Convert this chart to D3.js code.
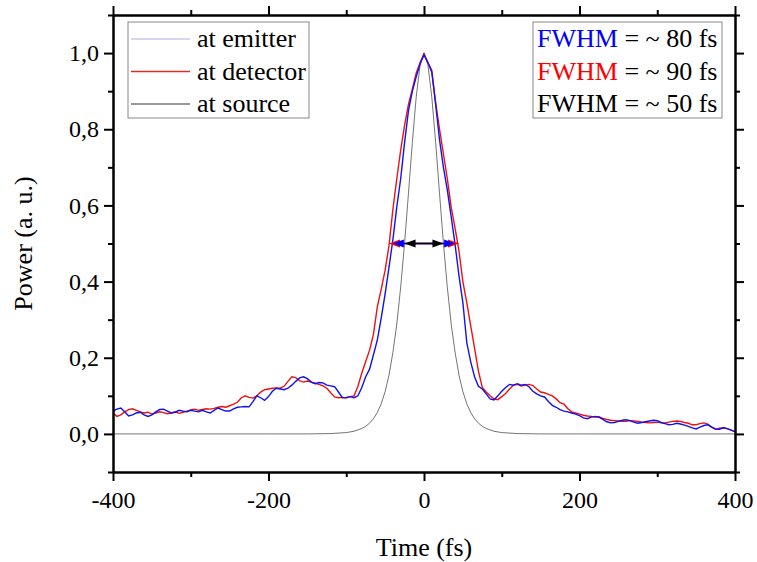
<!DOCTYPE html>
<html>
<head>
<meta charset="utf-8">
<script src="https://cdn.jsdelivr.net/npm/d3@7"></script>
<style>
  body { margin: 0; background: #fff; }
  svg, svg text { font-family: "Liberation Serif", "Times New Roman", serif; }
</style>
</head>
<body>
<div class="viz"></div>
<script>
// time grid for the measured traces (fs)
const timeGrid = d3.range(-400, 401, 5);

// "at emitter" (blue) trace, one value per 5 fs
const emitterPower = [
  0.060, 0.065, 0.068, 0.058, 0.047, 0.050, 0.055, 0.057, 0.050, 0.046,
  0.050, 0.058, 0.064, 0.065, 0.060, 0.055, 0.057, 0.062, 0.060, 0.058,
  0.062, 0.060, 0.058, 0.062, 0.058, 0.055, 0.062, 0.068, 0.064, 0.060,
  0.060, 0.066, 0.070, 0.071, 0.072, 0.071, 0.085, 0.100, 0.095, 0.088,
  0.098, 0.112, 0.120, 0.118, 0.116, 0.120, 0.128, 0.138, 0.147, 0.150,
  0.145, 0.136, 0.132, 0.135, 0.134, 0.128, 0.126, 0.124, 0.110, 0.095,
  0.096, 0.098, 0.095, 0.100, 0.122, 0.150, 0.170, 0.208, 0.247, 0.305,
  0.368, 0.438, 0.510, 0.596, 0.670, 0.765, 0.848, 0.900, 0.938, 0.972,
  0.995, 0.975, 0.950, 0.865, 0.772, 0.700, 0.640, 0.570, 0.497, 0.415,
  0.345, 0.240, 0.190, 0.150, 0.125, 0.118, 0.105, 0.092, 0.089, 0.100,
  0.112, 0.122, 0.130, 0.128, 0.132, 0.128, 0.130, 0.124, 0.112, 0.105,
  0.100, 0.097, 0.085, 0.075, 0.070, 0.064, 0.060, 0.058, 0.055, 0.052,
  0.048, 0.042, 0.040, 0.044, 0.046, 0.044, 0.038, 0.032, 0.029, 0.030,
  0.033, 0.036, 0.037, 0.035, 0.031, 0.028, 0.030, 0.032, 0.034, 0.036,
  0.035, 0.030, 0.027, 0.024, 0.025, 0.028, 0.026, 0.023, 0.020, 0.016,
  0.013, 0.018, 0.022, 0.024, 0.018, 0.013, 0.012, 0.016, 0.014, 0.010,
  0.006
];

// "at detector" (red) trace
const detectorPower = [
  0.055, 0.046, 0.050, 0.058, 0.064, 0.066, 0.062, 0.058, 0.055, 0.057,
  0.052, 0.055, 0.058, 0.056, 0.053, 0.055, 0.058, 0.054, 0.057, 0.060,
  0.063, 0.065, 0.062, 0.064, 0.066, 0.065, 0.067, 0.070, 0.072, 0.070,
  0.074, 0.078, 0.083, 0.095, 0.100, 0.096, 0.094, 0.100, 0.110, 0.116,
  0.118, 0.120, 0.121, 0.120, 0.125, 0.138, 0.150, 0.148, 0.140, 0.136,
  0.139, 0.136, 0.133, 0.130, 0.126, 0.120, 0.108, 0.097, 0.095, 0.096,
  0.094, 0.098, 0.100, 0.125, 0.160, 0.190, 0.220, 0.262, 0.334, 0.380,
  0.430, 0.495, 0.590, 0.670, 0.745, 0.810, 0.865, 0.905, 0.948, 0.975,
  0.998, 0.975, 0.955, 0.870, 0.800, 0.735, 0.670, 0.595, 0.540, 0.480,
  0.400, 0.345, 0.285, 0.225, 0.165, 0.122, 0.110, 0.100, 0.092, 0.090,
  0.098, 0.106, 0.118, 0.128, 0.130, 0.126, 0.128, 0.130, 0.127, 0.118,
  0.110, 0.108, 0.104, 0.100, 0.092, 0.082, 0.078, 0.066, 0.058, 0.055,
  0.052, 0.049, 0.047, 0.046, 0.044, 0.045, 0.041, 0.038, 0.036, 0.035,
  0.034, 0.033, 0.033, 0.035, 0.034, 0.033, 0.031, 0.030, 0.029, 0.030,
  0.031, 0.029, 0.029, 0.031, 0.033, 0.034, 0.033, 0.030, 0.028, 0.024,
  0.024, 0.027, 0.029, 0.026, 0.018, 0.012, 0.015, 0.016, 0.014, 0.010,
  0.006
];

// "at source" (black) pulse
const sourceTime = [-400, -200, -150, -120, -100, -90, -80, -75, -70, -65, -60, -55, -50, -45, -40, -35, -30, -25, -20, -15, -10, -5,
  0, 5, 10, 15, 20, 25, 30, 35, 40, 45, 50, 55, 60, 65, 70, 75, 80, 90, 100, 120, 150, 200, 400];
const sourcePower = [0, 0, 0, 0.0009, 0.0035, 0.007, 0.0141, 0.020, 0.0283, 0.040, 0.0565, 0.0794, 0.1111, 0.1544, 0.2141, 0.288, 0.3853, 0.5, 0.6307, 0.7648, 0.8852, 0.9695,
  1, 0.9695, 0.8852, 0.7648, 0.6307, 0.5, 0.3853, 0.288, 0.2141, 0.1544, 0.1111, 0.0794, 0.0565, 0.040, 0.0283, 0.020, 0.0141, 0.007, 0.0035, 0.0009, 0, 0, 0];

// FWHM markers (fs), drawn at half maximum
const fwhmWidths = [90, 80, 50];
const fwhmColors = ["#ff0000", "#0000ff", "#000000"];

// legends
const legendNames = ["at emitter", "at detector", "at source"];
const legendColors = ["#c8c8ee", "#e02a2a", "#777777"];
const fwhmTextColors = ["#0000ff", "#ff0000", "#000000"];
const fwhmTexts = ["~ 80 fs", "~ 90 fs", "~ 50 fs"];

const xTicks = [-400, -200, 0, 200, 400];
const xMinor = [-300, -100, 100, 300];
const yTicks = [0, 0.2, 0.4, 0.6, 0.8, 1.0];
const yMinor = [-0.1, 0.1, 0.3, 0.5, 0.7, 0.9, 1.1];

const SERIF = '"Liberation Serif", "Times New Roman", serif';

var margin = { top: 15, left: 113, right: 22, bottom: 90 },
    W = 757, H = 562,
    width = W - margin.left - margin.right,
    height = H - margin.top - margin.bottom;

var svg = d3.select('.viz').append('svg')
    .attr('width', W)
    .attr('height', H)
    .attr('font-family', SERIF);

var x = d3.scaleLinear().domain([-400, 400]).range([0, width]);
var y = d3.scaleLinear().domain([-0.1, 1.1]).range([height, 0]);

var g = svg.append('g')
    .attr('transform', 'translate(' + margin.left + ',' + margin.top + ')');

var defs = svg.append('defs');
defs.append('clipPath').attr('id', 'clip')
    .append('rect').attr('width', width).attr('height', height);

var plot = g.append('g').attr('clip-path', 'url(#clip)');

var line = d3.line()
    .x(function(d) { return x(d[0]); })
    .y(function(d) { return y(d[1]); });

// source first (thin), then detector, then emitter on top
plot.append('path')
    .datum(d3.zip(sourceTime, sourcePower))
    .attr('d', line)
    .attr('fill', 'none')
    .attr('stroke', '#000')
    .attr('stroke-width', 0.55);

plot.append('path')
    .datum(d3.zip(timeGrid, detectorPower))
    .attr('d', line)
    .attr('fill', 'none')
    .attr('stroke', '#ee1111')
    .attr('stroke-width', 1.4);

plot.append('path')
    .datum(d3.zip(timeGrid, emitterPower))
    .attr('d', line)
    .attr('fill', 'none')
    .attr('stroke', '#1111ee')
    .attr('stroke-width', 1.4);

// FWHM double arrows
fwhmWidths.forEach(function(w, i) {
    var c = fwhmColors[i];
    var x0 = x(-w / 2), x1 = x(w / 2), yy = y(0.5);
    var hl = 11, hw = 4;
    plot.append('line')
        .attr('x1', x0 + 4).attr('x2', x1 - 4)
        .attr('y1', yy).attr('y2', yy)
        .attr('stroke', c).attr('stroke-width', 1.5);
    plot.append('path')
        .attr('d', 'M' + x0 + ',' + yy + 'L' + (x0 + hl) + ',' + (yy - hw) + 'L' + (x0 + hl) + ',' + (yy + hw) + 'Z')
        .attr('fill', c);
    plot.append('path')
        .attr('d', 'M' + x1 + ',' + yy + 'L' + (x1 - hl) + ',' + (yy - hw) + 'L' + (x1 - hl) + ',' + (yy + hw) + 'Z')
        .attr('fill', c);
});

// axes
var fmt = function(d) { return d3.format('.1f')(d).replace('.', ','); };

function styleAxis(sel) {
    sel.attr('font-family', SERIF).attr('font-size', 24);
    sel.selectAll('path').attr('stroke', '#000').attr('stroke-width', 2);
    sel.selectAll('line').attr('stroke', '#000').attr('stroke-width', 2);
    sel.selectAll('text')
        .attr('fill', '#000')
        .attr('font-family', SERIF)
        .style('font-family', SERIF)
        .style('font-size', '24px');
}

var xb = g.append('g').attr('transform', 'translate(0,' + height + ')')
    .call(d3.axisBottom(x).tickValues(xTicks).tickSize(9).tickSizeOuter(0).tickPadding(4)
        .tickFormat(function(d) { return String(d); }));
var xbm = g.append('g').attr('transform', 'translate(0,' + height + ')')
    .call(d3.axisBottom(x).tickValues(xMinor).tickSize(5).tickSizeOuter(0).tickFormat(''));
var xt = g.append('g')
    .call(d3.axisTop(x).tickValues(xTicks).tickSize(9).tickSizeOuter(0).tickFormat(''));
var xtm = g.append('g')
    .call(d3.axisTop(x).tickValues(xMinor).tickSize(5).tickSizeOuter(0).tickFormat(''));
var yl = g.append('g')
    .call(d3.axisLeft(y).tickValues(yTicks).tickSize(9).tickSizeOuter(0).tickPadding(5).tickFormat(fmt));
var ylm = g.append('g')
    .call(d3.axisLeft(y).tickValues(yMinor).tickSize(5).tickSizeOuter(0).tickFormat(''));
var yr = g.append('g').attr('transform', 'translate(' + width + ',0)')
    .call(d3.axisRight(y).tickValues(yTicks).tickSize(9).tickSizeOuter(0).tickFormat(''));
var yrm = g.append('g').attr('transform', 'translate(' + width + ',0)')
    .call(d3.axisRight(y).tickValues(yMinor).tickSize(5).tickSizeOuter(0).tickFormat(''));

[xb, xbm, xt, xtm, yl, ylm, yr, yrm].forEach(styleAxis);
xb.selectAll('text').attr('dy', '0.95em');

// axis titles
svg.append('text')
    .attr('x', margin.left + width / 2)
    .attr('y', 556)
    .attr('text-anchor', 'middle')
    .style('font-size', '26px')
    .text('Time (fs)');

svg.append('text')
    .attr('transform', 'translate(32,' + (margin.top + y(0.5)) + ') rotate(-90)')
    .attr('text-anchor', 'middle')
    .style('font-size', '26px')
    .text('Power (a. u.)');

// series legend
var leg = svg.append('g').attr('transform', 'translate(128,22)');
leg.append('rect')
    .attr('width', 181).attr('height', 96)
    .attr('fill', '#fff').attr('stroke', '#888').attr('stroke-width', 1);
legendNames.forEach(function(n, i) {
    var yy = 17 + i * 32.5;
    leg.append('line')
        .attr('x1', 3).attr('x2', 62).attr('y1', yy).attr('y2', yy)
        .attr('stroke', legendColors[i]).attr('stroke-width', 1.5);
    leg.append('text')
        .attr('x', 69).attr('y', yy + 8)
        .style('font-size', '26px')
        .text(n);
});

// FWHM box
var fb = svg.append('g').attr('transform', 'translate(533,22)');
fb.append('rect')
    .attr('width', 189).attr('height', 96)
    .attr('fill', '#fff').attr('stroke', '#888').attr('stroke-width', 1);
fwhmTexts.forEach(function(t, i) {
    var txt = fb.append('text')
        .attr('x', 4).attr('y', 25 + i * 32.5)
        .style('font-size', '26px');
    txt.append('tspan').attr('fill', fwhmTextColors[i]).text('FWHM');
    txt.append('tspan').attr('fill', '#000').text(' = ' + t);
});
</script>
</body>
</html>
